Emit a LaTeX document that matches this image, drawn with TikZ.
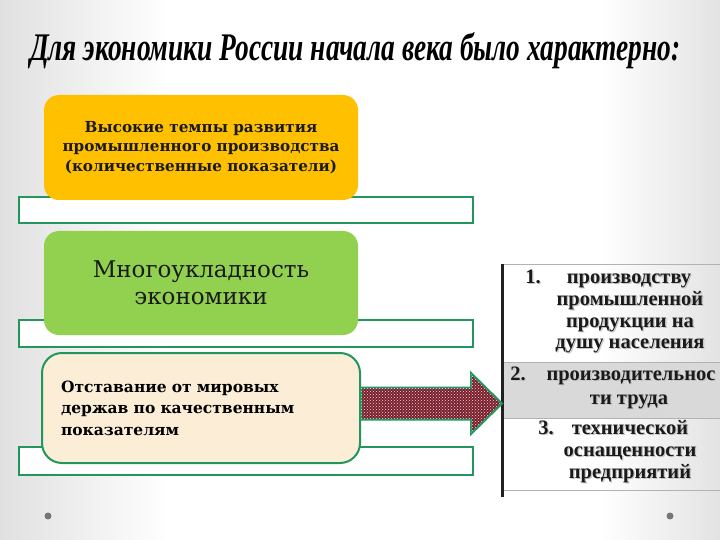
\documentclass[tikz,border=0pt]{standalone}
\usepackage{fontspec}
\usetikzlibrary{patterns,calc}
\newfontfamily\dvs{DejaVu Serif}
\newfontfamily\lbs{Liberation Serif}
\definecolor{gold}{HTML}{FFC000}
\definecolor{lgreen}{HTML}{92D050}
\definecolor{dgreen}{HTML}{22965C}
\definecolor{beige}{HTML}{FCEED6}
\definecolor{maroon}{HTML}{7A1E2C}
\definecolor{bandgray}{HTML}{D9D9D9}
\definecolor{txt}{HTML}{1A1A1A}
\newcommand\pline[4]{%
  \node[ptext,text=gray!45] (#1s) at (#2+1.3,#3+1.3) {#4};
  \node[ptext] (#1) at (#2,#3) {#4};}
\begin{document}
\begin{tikzpicture}[x=1pt,y=-1pt,
  grect/.style={draw=dgreen,line width=2pt,fill=white,minimum width=454pt,inner sep=0pt},
  bigbox/.style={rounded corners=15pt,minimum width=314pt,minimum height=105pt,inner sep=0pt,align=center,text=txt},
  arr/.style={draw=dgreen,line width=2pt,line join=miter,fill=maroon,postaction={pattern=crosshatch dots,pattern color=white!85!maroon}},
  ptext/.style={anchor=base,inner sep=0pt,text=txt,font=\lbs\bfseries\fontsize{20.5}{20.5}\selectfont},
  pline/.style={draw=gray!60,line width=0.8pt}]
% background
\useasboundingbox (0,0) rectangle (720,540);
\fill[white] (0,0) rectangle (720,540);
\shade[left color=gray!24,right color=white] (0,0) rectangle (170,540);
\shade[left color=white,right color=gray!22] (600,0) rectangle (720,540);
% title
\node[anchor=base west,inner sep=0pt] (title) at (30,61)
  {\resizebox{650pt}{28pt}{\lbs\bfseries\itshape Для экономики России начала века было характерно:}};
% outline strips
\node[grect,minimum height=26pt] (r1) at (246,210) {};
\node[grect,minimum height=27pt] (r2) at (246,333.5) {};
\node[grect,minimum height=28pt] (r3) at (246,461) {};
% boxes
\node[bigbox,fill=gold,font=\dvs\bfseries\fontsize{15.2}{19.5}\selectfont] (a) at (201,147.5)
  {Высокие темпы развития\\промышленного производства\\(количественные показатели)};
\node[bigbox,fill=lgreen,minimum height=104pt,font=\dvs\fontsize{23}{27}\selectfont] (b) at (201,283)
  {Многоукладность\\экономики};
\node[draw=dgreen,line width=2pt,fill=beige,rounded corners=20pt,minimum height=110pt,
  text width=280pt,inner xsep=19pt,inner ysep=0pt,align=left,text=black,
  font=\dvs\bfseries\fontsize{15.5}{21.5}\selectfont] (c) at (201,408)
  {Отставание от мировых\\держав по качественным\\показателям};
% right panel
\coordinate (ptl) at (502,264);
\coordinate (pbl) at (502,497);
\coordinate (tip) at (502,403.5);
\fill[bandgray] (503,362) rectangle (720,418);
\draw[pline] (ptl) -- (720,264);
\draw[pline] (503,362) -- (720,362);
\draw[pline] (503,418) -- (720,418);
\draw[pline] (503,490) -- (720,490);
\draw[line width=3pt,draw=gray!25!black] (ptl) -- (pbl);
% arrow
\draw[arr] ($(c.east|-tip)+(0,-16)$) -- ($(tip)+(-31,-16)$) -- ($(tip)+(-31,-30.5)$) -- (tip)
  -- ($(tip)+(-31,30.5)$) -- ($(tip)+(-31,16)$) -- ($(c.east|-tip)+(0,16)$) -- cycle;
% panel text
\pline{n1}{533}{283}{1.}
\pline{l1}{629}{283}{производству}
\pline{l2}{630}{305}{промышленной}
\pline{l3}{630}{327}{продукции на}
\pline{l4}{630}{348}{душу населения}
\pline{n2}{518}{380}{2.}
\pline{l5}{631}{380}{производительнос}
\pline{l6}{629}{404}{ти труда}
\pline{n3}{546}{434}{3.}
\pline{l7}{630}{434}{технической}
\pline{l8}{630}{456}{оснащенности}
\pline{l9}{630}{478}{предприятий}
% dots
\fill[gray!70!black,opacity=0.8] (48,516) circle (3.5pt) coordinate (d1);
\fill[gray!70!black,opacity=0.8] (670,516) circle (3.5pt) coordinate (d2);
\end{tikzpicture}
\end{document}
